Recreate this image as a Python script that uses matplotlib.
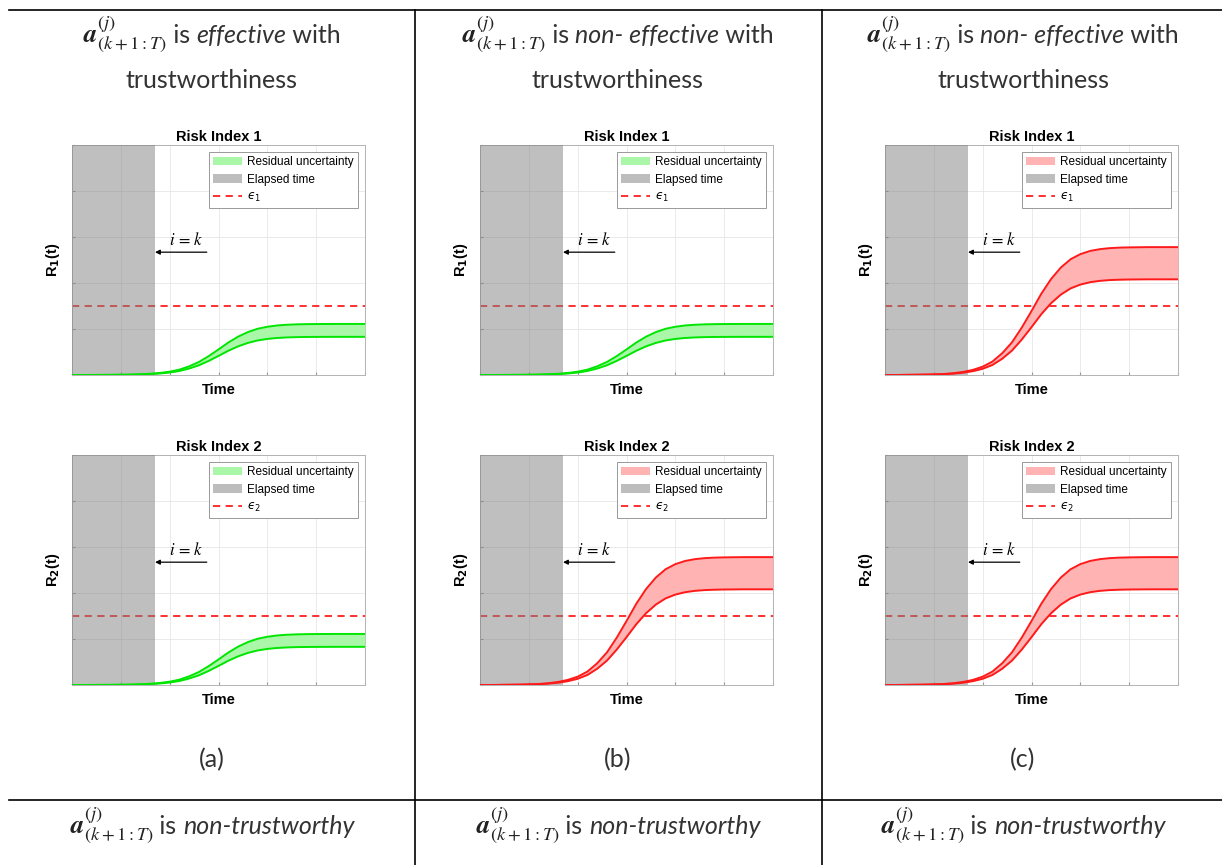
import matplotlib
matplotlib.use('Agg')
import matplotlib.pyplot as plt
from matplotlib.lines import Line2D
from matplotlib.patches import Patch

W, H = 1222, 865

# shared time axis and normalised rise of the risk curves
time = [0.0, 0.2, 0.4, 0.6, 0.8, 1.0, 1.2, 1.4, 1.6, 1.8, 2.0, 2.2, 2.4, 2.6, 2.8, 3.0,
        3.2, 3.4, 3.6, 3.8, 4.0, 4.2, 4.4, 4.6, 4.8, 5.0, 5.2, 5.4, 5.6, 5.8, 6.0]
rise = [0.0, 0.0, 0.001, 0.002, 0.003, 0.005, 0.008, 0.014, 0.024, 0.04, 0.065, 0.105, 0.17,
        0.255, 0.37, 0.50, 0.635, 0.75, 0.84, 0.905, 0.945, 0.97, 0.984, 0.992, 0.996, 0.998,
        0.999, 1.0, 1.0, 1.0, 1.0]

elapsed_end = 1.7
threshold = 1.5
# final levels (upper, lower) of the uncertainty band
band_levels = {'green': (1.11, 0.83), 'red': (2.78, 2.08)}
colors = {'green': ('#00e600', '#aaf7aa'), 'red': ('#ff1a1a', '#ffb3b3')}

panel_labels = ['(a)', '(b)', '(c)']
panel_cases = [['green', 'green'], ['green', 'red'], ['red', 'red']]
header_words = ['effective', 'non- effective', 'non- effective']
footer_words = ['non-trustworthy', 'non-trustworthy', 'non-trustworthy']
col_centers = [212, 618, 1023]
ax_lefts = [72, 480, 885]
ax_tops = [145, 455]

fig = plt.figure(figsize=(W / 100, H / 100), dpi=100)
renderer = fig.canvas.get_renderer()

sans = 'Liberation Sans'

for col in range(3):
    for row in range(2):
        case = panel_cases[col][row]
        line_c, fill_c = colors[case]
        up, lo = band_levels[case]
        upper = [up * r for r in rise]
        lower = [lo * r for r in rise]
        ax = fig.add_axes([ax_lefts[col] / W, 1 - (ax_tops[row] + 230) / H, 293 / W, 230 / H])
        ax.set_xlim(0, 6)
        ax.set_ylim(0, 5)
        ax.set_xticks(range(7))
        ax.set_yticks(range(6))
        ax.grid(True, color='0.9', lw=0.6)
        ax.set_axisbelow(True)
        ax.tick_params(direction='in', length=2.5, color='0.6',
                       labelbottom=False, labelleft=False)
        for s in ax.spines.values():
            s.set_color('0.7')
            s.set_linewidth(0.7)
        ax.axhline(threshold, color='#ff2020', lw=1.3, ls=(0, (4, 3)), zorder=2)
        ax.axvspan(0, elapsed_end, color='0.5', alpha=0.5, lw=0, zorder=3)
        ax.fill_between(time, lower, upper, color=fill_c, lw=0, zorder=4)
        ax.plot(time, upper, color=line_c, lw=1.4, zorder=5)
        ax.plot(time, lower, color=line_c, lw=1.4, zorder=5)

        ax.annotate('', xy=(elapsed_end, 2.67), xytext=(2.76, 2.67),
                    arrowprops=dict(arrowstyle='-|>', color='k', lw=0.9,
                                    mutation_scale=7, shrinkA=0, shrinkB=0), zorder=6)
        ax.text(2.34, 2.93, r'$i\,=\,k$', ha='center', va='center', fontsize=12,
                math_fontfamily='stix')

        ax.set_title('Risk Index %d' % (row + 1), fontsize=10.5, fontweight='bold',
                     family=sans, pad=3)
        ax.set_xlabel('Time', fontsize=10.5, fontweight='bold', family=sans, labelpad=6)
        ax.set_ylabel(r'R$_\mathbf{%d}$(t)' % (row + 1), fontsize=10.5, fontweight='bold',
                      family=sans, labelpad=7)

        handles = [Patch(facecolor=fill_c, edgecolor='none'),
                   Patch(facecolor='#bdbdbd', edgecolor='none'),
                   Line2D([], [], color='#ff2020', lw=1.3, ls=(0, (4, 3)))]
        labels = ['Residual uncertainty', 'Elapsed time', '$\u03f5_{%d}$' % (row + 1)]
        leg = ax.legend(handles, labels, loc='upper right',
                        prop={'family': sans, 'size': 8.5}, fancybox=False,
                        framealpha=1, edgecolor='0.6', borderaxespad=0.6,
                        handlelength=2.5, labelspacing=0.45, handletextpad=0.4,
                        borderpad=0.35)
        leg.get_frame().set_linewidth(0.7)
        leg.set_zorder(10)

# table text
base = dict(family='Lato', size=18, color='#333333')
ital = dict(base, style='italic')
math = dict(size=19, math_fontfamily='stix', color='#222222')
vec = r'$\mathbfit{a}^{(j)}_{(k+1:T)}$'


def centered_line(cx, base_y, parts):
    texts = [fig.text(0, 1 - base_y / H, s, ha='left', va='baseline', **st)
             for s, st in parts]
    widths = [t.get_window_extent(renderer).width for t in texts]
    x = cx - sum(widths) / 2
    for t, w in zip(texts, widths):
        t.set_x(x / W)
        x += w


for col in range(3):
    cx = col_centers[col]
    centered_line(cx, 43, [(vec, math), (' is ', base), (header_words[col], ital),
                           (' with', base)])
    centered_line(cx, 88, [('trustworthiness', base)])
    centered_line(cx, 767, [(panel_labels[col], base)])
    centered_line(cx, 834, [(vec, math), (' is ', base), (footer_words[col], ital)])

# table borders
lw = 1.2
fig.add_artist(Line2D([9 / W, 1], [1 - 10 / H, 1 - 10 / H], color='k', lw=lw))
fig.add_artist(Line2D([9 / W, 1], [1 - 800 / H, 1 - 800 / H], color='k', lw=lw))
for xv in [415, 822]:
    fig.add_artist(Line2D([xv / W, xv / W], [0, 1 - 10 / H], color='k', lw=lw))

fig.savefig('out.png', dpi=100)
